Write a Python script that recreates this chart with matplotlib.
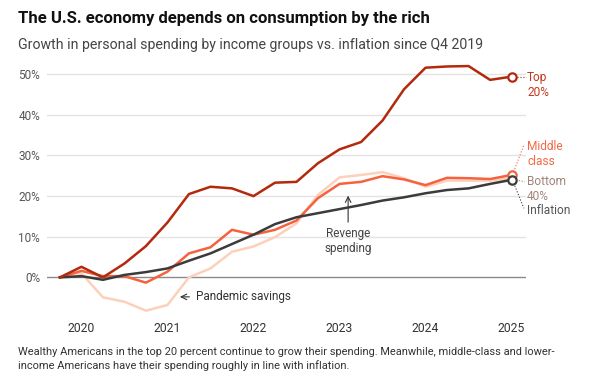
"""Spending growth by income group vs. inflation, Q4 2019 to Q1 2025."""

import matplotlib.pyplot as plt
import numpy as np

plt.rcParams["font.family"] = ["Roboto", "DejaVu Sans"]

# quarterly values, Q4 2019 .. Q1 2025 (percent growth since Q4 2019)
quarters = np.arange(22)
top_20 = [0, 2.6, 0.0, 3.4, 7.7, 13.5, 20.5, 22.3, 21.9, 20.0, 23.3,
          23.5, 28.1, 31.5, 33.3, 38.6, 46.3, 51.6, 51.9, 52.0, 48.6, 49.4]
middle_class = [0, 1.6, 0.3, 0.3, -1.3, 1.4, 5.9, 7.4, 11.7, 10.5, 11.7,
                14.0, 19.5, 23.0, 23.5, 24.9, 24.1, 22.7, 24.5, 24.4, 24.2, 25.2]
bottom_40 = [0, 1.0, -4.9, -6.0, -8.2, -6.8, 0.0, 2.2, 6.3, 7.6, 9.9,
             13.3, 20.3, 24.6, 25.2, 25.9, 24.4, 22.3, 23.8, 23.8, 23.8, 24.4]
inflation = [0, 0.3, -0.6, 0.6, 1.3, 2.2, 4.1, 5.9, 8.2, 10.5, 13.1,
             14.8, 15.8, 16.8, 17.8, 18.9, 19.7, 20.7, 21.5, 21.9, 23.0, 24.0]

year_ticks = [1, 5, 9, 13, 17, 21]
year_labels = ["2020", "2021", "2022", "2023", "2024", "2025"]
y_ticks = [0, 10, 20, 30, 40, 50]

TOP_COLOR = "#b2290d"
MID_COLOR = "#f4623e"
BOT_COLOR = "#fdd0bc"
INF_COLOR = "#3b3b3b"
TEXT_GRAY = "#555555"

fig = plt.figure(figsize=(5.96, 3.76), dpi=100)
ax = fig.add_axes([47 / 596, 1 - 318 / 376, 479 / 596, 256 / 376])

ax.plot(quarters, bottom_40, color=BOT_COLOR, lw=1.8, zorder=3)
ax.plot(quarters, middle_class, color=MID_COLOR, lw=1.8, zorder=4)
ax.plot(quarters, inflation, color=INF_COLOR, lw=1.8, zorder=5)
ax.plot(quarters, top_20, color=TOP_COLOR, lw=1.8, zorder=6)

# open end markers
for series, color, z in [(middle_class, MID_COLOR, 7), (inflation, INF_COLOR, 8),
                         (top_20, TOP_COLOR, 9)]:
    ax.plot(quarters[-1], series[-1], "o", ms=6, mfc="white", mec=color,
            mew=1.6, zorder=z, clip_on=False)

ax.set_xlim(-0.6, 21.67)
ax.set_ylim(-10, 53)
ax.set_yticks(y_ticks)
ax.set_yticklabels([f"{v}%" for v in y_ticks])
ax.set_xticks(year_ticks)
ax.set_xticklabels(year_labels)
ax.tick_params(axis="y", length=0, pad=5, labelsize=8.5, labelcolor=TEXT_GRAY)
ax.tick_params(axis="x", length=0, pad=3, labelsize=8.7, labelcolor="#333333")

for v in y_ticks[1:]:
    ax.axhline(v, color="#e3e3e3", lw=1, zorder=1)
ax.axhline(0, color="#8a8a8a", lw=1, zorder=2)
for side in ax.spines.values():
    side.set_visible(False)

# end labels with dotted leaders
end_x = quarters[-1]
lab_x = 21.72
fs_lab = 8.6
ax.plot([end_x + 0.25, lab_x - 0.05], [49.4, 49.4], ls=":", lw=0.8,
        color=TOP_COLOR, clip_on=False)
ax.text(lab_x, 49.3, "Top", color="#c0391d", fontsize=fs_lab, va="center",
        clip_on=False)
ax.text(lab_x, 45.4, "20%", color="#c0391d", fontsize=fs_lab, va="center",
        clip_on=False)

ax.plot([end_x + 0.1, lab_x - 0.15], [26.0, 32.6], ls=":", lw=0.8,
        color=MID_COLOR, clip_on=False)
ax.text(lab_x, 32.1, "Middle", color="#f26a45", fontsize=fs_lab, va="center",
        clip_on=False)
ax.text(lab_x, 28.4, "class", color="#f26a45", fontsize=fs_lab, va="center",
        clip_on=False)

ax.plot([end_x + 0.2, lab_x - 0.1], [24.0, 23.5], ls=":", lw=0.8,
        color="#9e8479", clip_on=False)
ax.text(lab_x, 23.6, "Bottom", color="#9e8479", fontsize=fs_lab, va="center",
        clip_on=False)
ax.text(lab_x, 19.9, "40%", color="#9e8479", fontsize=fs_lab, va="center",
        clip_on=False)

ax.plot([end_x + 0.1, lab_x - 0.15], [23.2, 17.0], ls=":", lw=0.8,
        color=INF_COLOR, clip_on=False)
ax.text(lab_x, 16.4, "Inflation", color=TEXT_GRAY, fontsize=fs_lab, va="center",
        clip_on=False)

# annotations
ax.annotate("", xy=(13.4, 20.8), xytext=(13.4, 12.9),
            arrowprops=dict(arrowstyle="->", color="#333333", lw=0.8))
ax.text(13.4, 9.0, "Revenge\nspending", ha="center", va="center",
        fontsize=8.5, color="#444444", linespacing=1.2)
ax.annotate("", xy=(5.45, -4.8), xytext=(6.15, -4.8),
            arrowprops=dict(arrowstyle="->", color="#333333", lw=0.8))
ax.text(6.35, -4.8, "Pandemic savings", ha="left", va="center",
        fontsize=8.5, color="#333333")

fig.text(18 / 596, 1 - 18 / 376, "The U.S. economy depends on consumption by the rich",
         fontsize=12, fontweight="bold", color="#111111", va="center")
fig.text(18 / 596, 1 - 45 / 376,
         "Growth in personal spending by income groups vs. inflation since Q4 2019",
         fontsize=10.2, color="#444444", va="center")
fig.text(18 / 596, 1 - 359 / 376,
         "Wealthy Americans in the top 20 percent continue to grow their spending. "
         "Meanwhile, middle-class and lower-\n"
         "income Americans have their spending roughly in line with inflation.",
         fontsize=7.95, color="#333333", va="center", linespacing=1.25)

fig.savefig("out.png", dpi=100, facecolor="white")
